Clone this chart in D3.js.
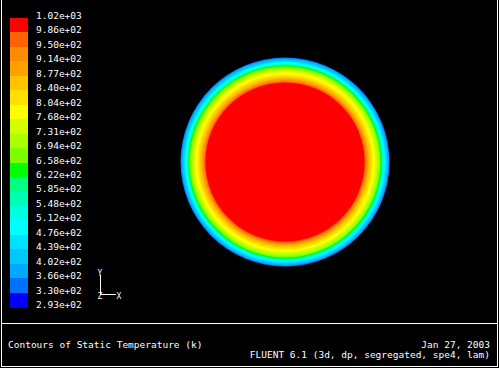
<!DOCTYPE html>
<html><head><meta charset="utf-8">
<script src="https://cdn.jsdelivr.net/npm/d3@7"></script>
<style>html,body{margin:0;padding:0;background:#000;overflow:hidden}svg{display:block}</style>
</head><body>
<script>
// ---- data ----
const levelLabels = ["1.02e+03","9.86e+02","9.50e+02","9.14e+02","8.77e+02","8.40e+02","8.04e+02",
  "7.68e+02","7.31e+02","6.94e+02","6.58e+02","6.22e+02","5.85e+02","5.48e+02","5.12e+02",
  "4.76e+02","4.39e+02","4.02e+02","3.66e+02","3.30e+02","2.93e+02"];
// band colours, top (hottest) to bottom (coldest)
const bandColors = ["#ff0000","#ff6200","#ff8c00","#ffa200","#ffc400","#ffe000","#ffff00",
  "#d4ff00","#acff00","#7cff00","#00ff00","#00ff84","#00ffb4","#00ffe0","#00ffff",
  "#00e0ff","#00c8ff","#00a8ff","#0070ff","#0000ff"];
// outer radius (mm) of each temperature band on the section, hottest band first
const bandRadii = [80.0, 81.2, 82.5, 84.0, 86.0, 88.0, 90.5, 92.5, 94.5, 96.0, 97.0,
  97.6, 98.3, 99.0, 100.5, 101.5, 103.0, 104.3, 105.0];
const sectionRadius = 105.0;
const titleLeft = "Contours of Static Temperature (k)";
const dateText = "Jan 27, 2003";
const versionText = "FLUENT 6.1 (3d, dp, segregated, spe4, lam)";

// ---- drawing ----
const W = 499, H = 368;
const svg = d3.select("body").append("svg").attr("width", W).attr("height", H)
  .style("background", "#000");
svg.append("rect").attr("width", W).attr("height", H).attr("fill", "#000");

const font = "'DejaVu Sans Mono', 'Liberation Mono', monospace";

// colour bar
const bar = d3.scaleBand().domain(d3.range(bandColors.length)).range([18, 307]).paddingInner(0);
svg.append("g").selectAll("rect").data(bandColors).join("rect")
  .attr("x", 10).attr("width", 18)
  .attr("y", (d, i) => bar(i)).attr("height", bar.bandwidth() + 0.5)
  .attr("fill", d => d).attr("shape-rendering", "crispEdges");
const lab = d3.scaleLinear().domain([0, levelLabels.length - 1]).range([18, 307]);
svg.append("g").selectAll("text").data(levelLabels).join("text")
  .attr("x", 36).attr("y", (d, i) => lab(i) + 1)
  .attr("fill", "#fff").attr("font-family", font).attr("font-size", 9.5)
  .text(d => d);

// contour section
const cx = 285, cy = 162;
const r = d3.scaleLinear().domain([0, sectionRadius]).range([0, 104.5]);
const rings = bandRadii.map((rad, i) => ({rad, color: bandColors[i + 1] ? bandColors[i] : bandColors[i]}));
// draw from outermost inward
const ringData = bandRadii.map((rad, i) => ({rad, color: bandColors[i]}))
  .sort((a, b) => b.rad - a.rad);
// the outermost band uses colour of band index (bandRadii.length-1)
svg.append("g").selectAll("circle").data(ringData).join("circle")
  .attr("cx", cx).attr("cy", cy).attr("r", d => r(d.rad)).attr("fill", d => d.color);

// axis triad
const tri = svg.append("g").attr("stroke", "#fff").attr("stroke-width", 1);
tri.append("line").attr("x1", 100.5).attr("y1", 275).attr("x2", 100.5).attr("y2", 295);
tri.append("line").attr("x1", 100).attr("y1", 294.5).attr("x2", 116).attr("y2", 294.5);
const tt = svg.append("g").attr("fill", "#fff").attr("font-family", font).attr("font-size", 8);
tt.append("text").attr("x", 97.5).attr("y", 276).text("Y");
tt.append("text").attr("x", 97.5).attr("y", 298.5).text("Z");
tt.append("text").attr("x", 116.5).attr("y", 298.5).text("X");

// frame
const fr = svg.append("g").attr("stroke", "#fff").attr("stroke-width", 1).attr("shape-rendering", "crispEdges");
fr.append("line").attr("x1", 1.5).attr("y1", 0).attr("x2", 1.5).attr("y2", 367);
fr.append("line").attr("x1", 497.5).attr("y1", 0).attr("x2", 497.5).attr("y2", 367);
fr.append("line").attr("x1", 1).attr("y1", 366.5).attr("x2", 498).attr("y2", 366.5);
fr.append("line").attr("x1", 1).attr("y1", 323.5).attr("x2", 498).attr("y2", 323.5);

// footer text
const ft = svg.append("g").attr("fill", "#fff").attr("font-family", font).attr("font-size", 9.5);
ft.append("text").attr("x", 8).attr("y", 348).text(titleLeft);
ft.append("text").attr("x", 490).attr("y", 348).attr("text-anchor", "end").text(dateText);
ft.append("text").attr("x", 490).attr("y", 357.5).attr("text-anchor", "end").text(versionText);
</script>
</body></html>
